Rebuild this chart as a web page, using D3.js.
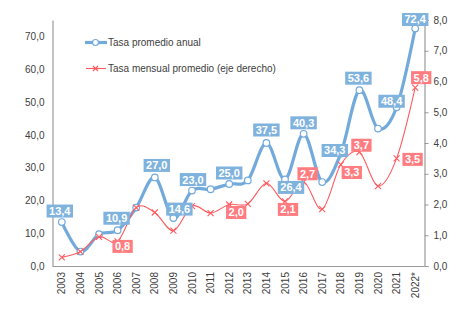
<!DOCTYPE html>
<html><head><meta charset="utf-8">
<script src="https://cdn.jsdelivr.net/npm/d3@7"></script>
<style>body{margin:0;background:#fff;}svg{display:block;font-family:"Liberation Sans",Arial,sans-serif;}</style>
</head><body><svg id="c" width="474" height="310"></svg>
<script>
const years = ["2003","2004","2005","2006","2007","2008","2009","2010","2011","2012","2013","2014","2015","2016","2017","2018","2019","2020","2021","2022*"];
const anual = [13.4, 4.4, 9.7, 10.9, 17.8, 27.0, 14.6, 23.0, 23.4, 25.0, 26.1, 37.5, 26.4, 40.3, 25.6, 34.3, 53.6, 41.9, 48.4, 72.4];
const mensual = [0.28, 0.47, 0.95, 0.8, 1.9, 1.74, 1.15, 1.95, 1.72, 2.0, 2.02, 2.69, 2.1, 2.74, 1.85, 3.3, 3.7, 2.6, 3.5, 5.8];
const leftTicks = [0,10,20,30,40,50,60,70];
const rightTicks = [0,1,2,3,4,5,6,7,8];
const seriesNames = ["Tasa promedio anual","Tasa mensual promedio (eje derecho)"];
// which points carry a data label
const anualLabeled = ["2003","2006","2008","2009","2010","2012","2014","2015","2016","2018","2019","2021","2022*"];
const mensualLabeled = ["2006","2012","2015","2016","2018","2019","2021","2022*"];

// layout (label offsets relative to the point)
const anualOff = {"2003":[-2,-11],"2006":[-1,-12],"2008":[2,-12],"2009":[6,-9],"2010":[1,-11],"2012":[0,-11],"2014":[0,-13],"2015":[6,8],"2016":[0,-11],"2018":[-6,-3],"2019":[-1,-12],"2021":[-5,-6],"2022*":[0,-9]};
const mensualOff = {"2006":[5,5],"2012":[7,8],"2015":[3,8],"2016":[4,-8],"2018":[11,8],"2019":[2,-7],"2021":[16,1],"2022*":[6,-10]};

const fmt = v => d3.format(".1f")(v).replace(".", ",");
const svg = d3.select("#c");
const L = 52.5, R = 424.5, T = 20, B = 266;
const blue = "#72AADC", red = "#FF5A5F";
const blueLbl = "#7FB3DE", redLbl = "#FF7C80";
const txt = "#404040";

const x = d3.scaleBand().domain(years).range([L, R]);
const cx = d => x(d) + x.bandwidth()/2;
const yL = d3.scaleLinear().domain([0,75]).range([B, T]);
const yR = d3.scaleLinear().domain([0,8]).range([B, T]);

// axes
const gL = svg.append("g").attr("transform",`translate(${L},0)`)
  .call(d3.axisLeft(yL).tickValues(leftTicks).tickSize(0).tickPadding(8).tickFormat(fmt));
const gR = svg.append("g").attr("transform",`translate(${R},0)`)
  .call(d3.axisRight(yR).tickValues(rightTicks).tickSize(4).tickPadding(5).tickFormat(fmt));
const gX = svg.append("g").attr("transform",`translate(0,${B})`)
  .call(d3.axisBottom(x).tickSize(0).tickPadding(0));
[gL,gR,gX].forEach(g=>{
  g.selectAll(".domain").attr("stroke","#9a9a9a").attr("stroke-width",1.2);
  g.selectAll(".tick line").attr("stroke","#9a9a9a");
  g.selectAll("text").attr("fill",txt).attr("font-size",10);
});
gX.select(".domain").attr("d",`M${L},0.5H${R}`);
gX.selectAll(".tick text").attr("transform","rotate(-90)").attr("text-anchor","end")
  .attr("dy","0.35em").attr("x",-6).attr("y",0);

// lines
const lineA = d3.line().x((d,i)=>cx(years[i])).y(d=>yL(d)).curve(d3.curveCatmullRom.alpha(0));
const lineM = d3.line().x((d,i)=>cx(years[i])).y(d=>yR(d)).curve(d3.curveCatmullRom.alpha(0));
svg.append("path").attr("d",lineA(anual)).attr("fill","none").attr("stroke",blue).attr("stroke-width",3.2);
svg.selectAll("circle.a").data(anual).join("circle").attr("class","a")
  .attr("cx",(d,i)=>cx(years[i])).attr("cy",d=>yL(d)).attr("r",3.3)
  .attr("fill","#fff").attr("stroke",blue).attr("stroke-width",1.2);

svg.append("path").attr("d",lineM(mensual)).attr("fill","none").attr("stroke",red).attr("stroke-width",1.1);
const xm = (g, px, py, s) => g.append("path").attr("d",`M${px-s},${py-s}L${px+s},${py+s}M${px-s},${py+s}L${px+s},${py-s}`)
  .attr("stroke",red).attr("stroke-width",1.1).attr("fill","none");
mensual.forEach((d,i)=> xm(svg, cx(years[i]), yR(d), 3));

// labels
function label(px, py, text, fill){
  const g = svg.append("g");
  const t = g.append("text").attr("x",px).attr("y",py).attr("dy","0.36em").attr("text-anchor","middle")
    .attr("font-size",11).attr("font-weight","bold").attr("fill","#fff").text(text);
  const w = t.node().getComputedTextLength() + 5;
  g.insert("rect","text").attr("x",px-w/2).attr("y",py-6.5).attr("width",w).attr("height",13).attr("fill",fill);
}
anualLabeled.forEach(yr=>{
  const i = years.indexOf(yr), o = anualOff[yr];
  label(cx(yr)+o[0], yL(anual[i])+o[1], fmt(anual[i]), blueLbl);
});
mensualLabeled.forEach(yr=>{
  const i = years.indexOf(yr), o = mensualOff[yr];
  label(cx(yr)+o[0], yR(mensual[i])+o[1], fmt(mensual[i]), redLbl);
});

// legend
const lg = svg.append("g");
lg.append("line").attr("x1",85).attr("x2",107).attr("y1",42.5).attr("y2",42.5).attr("stroke",blue).attr("stroke-width",3.2);
lg.append("circle").attr("cx",95.5).attr("cy",42.5).attr("r",3).attr("fill","#fff").attr("stroke",blue).attr("stroke-width",1.2);
lg.append("text").attr("x",108).attr("y",42.5).attr("dy","0.35em").attr("font-size",10).attr("fill",txt).text(seriesNames[0]);
lg.append("line").attr("x1",86).attr("x2",106).attr("y1",68.5).attr("y2",68.5).attr("stroke",red).attr("stroke-width",1.1);
xm(lg, 95.5, 68.5, 2.5);
lg.append("text").attr("x",108).attr("y",68.5).attr("dy","0.35em").attr("font-size",10).attr("fill",txt).text(seriesNames[1]);
</script></body></html>
